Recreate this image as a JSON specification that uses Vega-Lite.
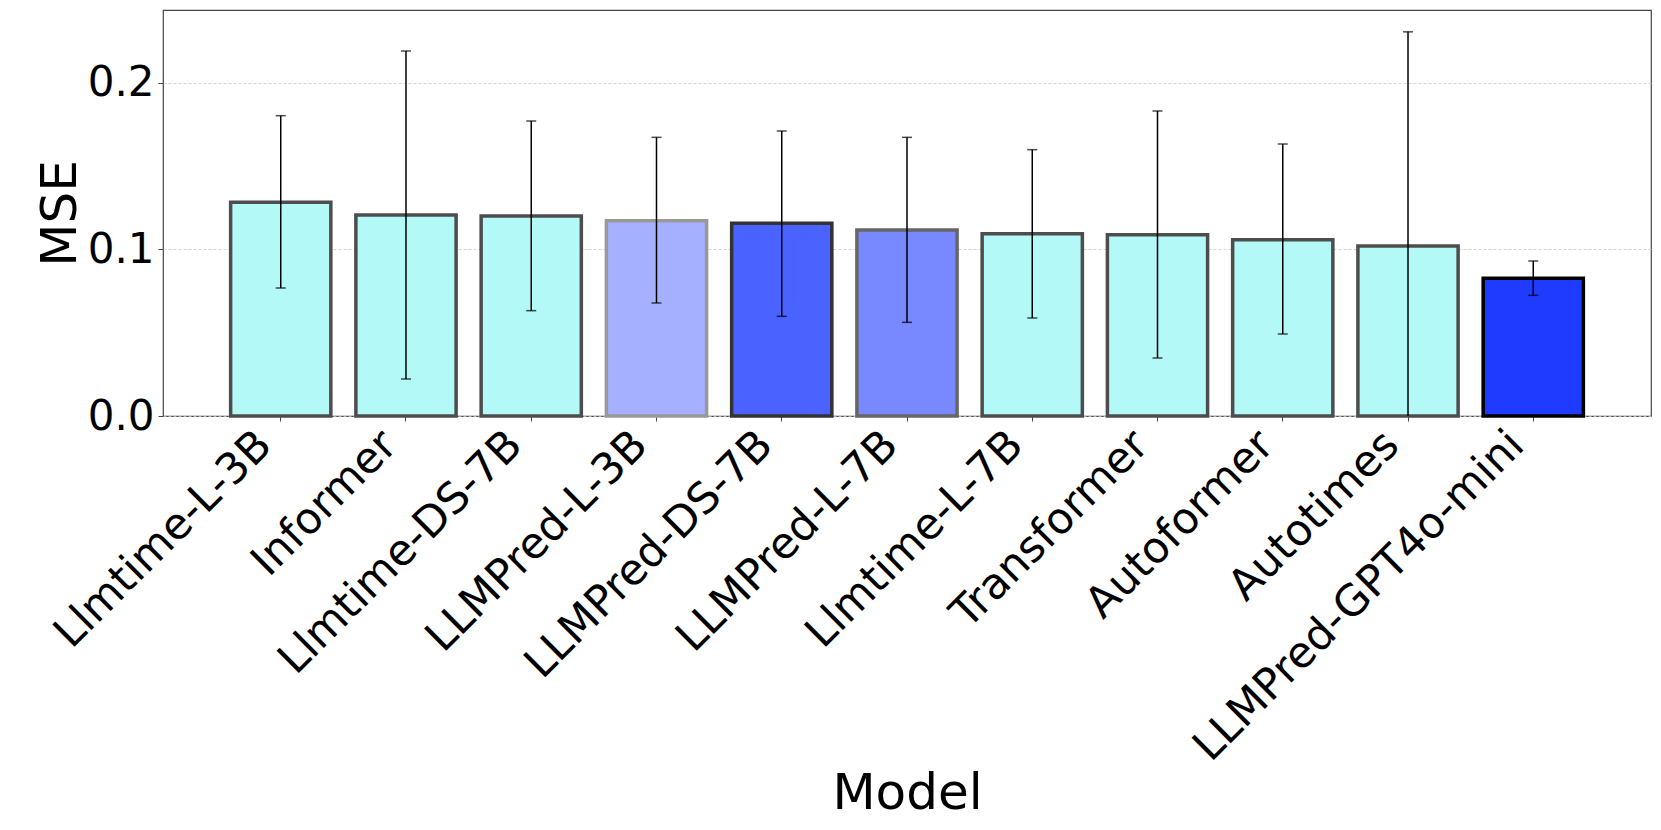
{
  "$schema": "https://vega.github.io/schema/vega-lite/v6.json",
  "width": 1488,
  "height": 406,
  "autosize": {"type": "none"},
  "padding": {"left": 163, "top": 10, "right": 10, "bottom": 414},
  "background": "white",
  "config": {
    "font": "DejaVu Sans",
    "view": {"stroke": "#444444", "strokeWidth": 1.2},
    "axis": {
      "labelColor": "black",
      "titleColor": "black",
      "titleFontWeight": "normal",
      "tickColor": "#444444",
      "tickSize": 5,
      "tickWidth": 1,
      "domain": false
    }
  },
  "data": {
    "values": [
      {"Model": "Llmtime-L-3B", "MSE": 0.1282, "lower": 0.0768, "upper": 0.1802},
      {"Model": "Informer", "MSE": 0.1206, "lower": 0.0222, "upper": 0.219},
      {"Model": "Llmtime-DS-7B", "MSE": 0.12, "lower": 0.0632, "upper": 0.177},
      {"Model": "LLMPred-L-3B", "MSE": 0.1172, "lower": 0.0678, "upper": 0.1672},
      {"Model": "LLMPred-DS-7B", "MSE": 0.1156, "lower": 0.0598, "upper": 0.171},
      {"Model": "LLMPred-L-7B", "MSE": 0.1116, "lower": 0.0562, "upper": 0.1672},
      {"Model": "Llmtime-L-7B", "MSE": 0.1094, "lower": 0.0588, "upper": 0.1598},
      {"Model": "Transformer", "MSE": 0.1088, "lower": 0.0348, "upper": 0.183},
      {"Model": "Autoformer", "MSE": 0.1058, "lower": 0.0492, "upper": 0.1632},
      {"Model": "Autotimes", "MSE": 0.102, "lower": -0.0265, "upper": 0.2305},
      {"Model": "LLMPred-GPT4o-mini", "MSE": 0.0826, "lower": 0.0724, "upper": 0.093}
    ]
  },
  "encoding": {
    "x": {
      "field": "Model",
      "type": "nominal",
      "sort": null,
      "title": "Model",
      "scale": {"paddingInner": 0.2, "paddingOuter": 0.54},
      "axis": {
        "labelAngle": -45,
        "labelAlign": "right",
        "labelBaseline": "top",
        "labelFontSize": 43,
        "labelPadding": 2,
        "labelLimit": 1000,
        "labelOffset": -31,
        "titleFontSize": 50,
        "titlePadding": 152,
        "grid": false
      }
    }
  },
  "layer": [
    {
      "mark": {"type": "bar", "strokeWidth": 3.5},
      "encoding": {
        "y": {
          "field": "MSE",
          "type": "quantitative",
          "title": "MSE",
          "scale": {"domain": [0, 0.2436], "nice": false, "zero": true},
          "axis": {
            "values": [0, 0.1, 0.2],
            "format": ".1f",
            "labelFontSize": 42,
            "labelPadding": 4,
            "titleFontSize": 50,
            "titlePadding": 2,
            "grid": true,
            "gridDash": [3, 2],
            "gridColor": "#cccccc",
            "gridWidth": 0.8
          }
        },
        "color": {
          "field": "Model",
          "type": "nominal",
          "legend": null,
          "scale": {
            "domain": ["Llmtime-L-3B", "Informer", "Llmtime-DS-7B", "LLMPred-L-3B", "LLMPred-DS-7B", "LLMPred-L-7B", "Llmtime-L-7B", "Transformer", "Autoformer", "Autotimes", "LLMPred-GPT4o-mini"],
            "range": ["#b2f9f8", "#b2f9f8", "#b2f9f8", "#a5b0ff", "#4a62ff", "#7889ff", "#b2f9f8", "#b2f9f8", "#b2f9f8", "#b2f9f8", "#1f3bff"]
          }
        },
        "stroke": {
          "field": "Model",
          "type": "nominal",
          "legend": null,
          "scale": {
            "domain": ["Llmtime-L-3B", "Informer", "Llmtime-DS-7B", "LLMPred-L-3B", "LLMPred-DS-7B", "LLMPred-L-7B", "Llmtime-L-7B", "Transformer", "Autoformer", "Autotimes", "LLMPred-GPT4o-mini"],
            "range": ["#4d4d4d", "#4d4d4d", "#4d4d4d", "#999999", "#333333", "#666666", "#4d4d4d", "#4d4d4d", "#4d4d4d", "#4d4d4d", "#000000"]
          }
        }
      }
    },
    {
      "mark": {"type": "rule", "clip": true, "color": "black", "strokeWidth": 1.5},
      "encoding": {
        "y": {"field": "lower", "type": "quantitative", "title": "MSE"},
        "y2": {"field": "upper"}
      }
    },
    {
      "mark": {"type": "tick", "color": "black", "thickness": 1.5, "size": 10, "clip": true},
      "encoding": {
        "y": {"field": "upper", "type": "quantitative", "title": "MSE"}
      }
    },
    {
      "mark": {"type": "tick", "color": "black", "thickness": 1.5, "size": 10, "clip": true},
      "encoding": {
        "y": {"field": "lower", "type": "quantitative", "title": "MSE"}
      }
    }
  ]
}
